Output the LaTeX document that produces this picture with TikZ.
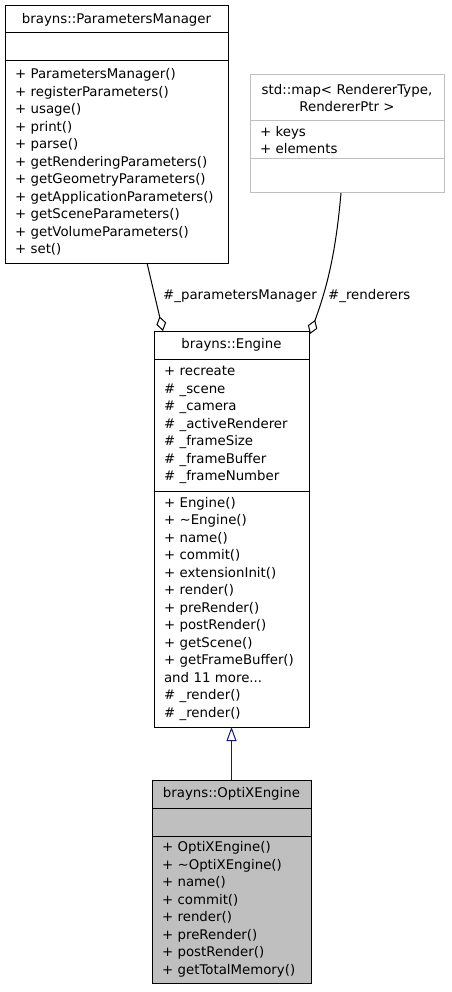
\documentclass[tikz,border=0pt]{standalone}
\usepackage{fontspec}
\setmainfont{DejaVu Sans}
\usetikzlibrary{positioning,arrows.meta}
\definecolor{grey75}{HTML}{BFBFBF}
\definecolor{edgeblue}{HTML}{191970}
\newcommand{\umlfont}{\fontsize{13.33}{17.5}\selectfont}

\begin{document}
\begin{tikzpicture}[x=1pt,y=-1pt, % one unit per pixel, y downwards
  compart/.style={draw, line width=1pt, fill=white, font=\umlfont, inner xsep=10pt, inner ysep=0pt, outer sep=0pt, align=left},
  clsname/.style={compart, align=center, anchor=north west},
  aggr/.style={line width=1pt, -{Diamond[open,length=15pt,width=10pt]}},
  inherit/.style={line width=1pt, edgeblue, -{Triangle[open,length=14pt,width=10pt]}},
  lbl/.style={font=\umlfont, inner sep=0pt, anchor=west}]
\fill[white] (0,0) rectangle (451,992);

% brayns::ParametersManager
\node[clsname, text width=203pt, minimum height=27pt] (pmTitle) at (5,6) {brayns::ParametersManager};
\node[compart, text width=203pt, minimum height=28pt, below=0pt of pmTitle] (pmAttr) {};
\node[compart, text width=203pt, minimum height=202pt, below=0pt of pmAttr] (pmMethods) {%
+ ParametersManager()\\
+ registerParameters()\\
+ usage()\\
+ print()\\
+ parse()\\
+ getRenderingParameters()\\
+ getGeometryParameters()\\
+ getApplicationParameters()\\
+ getSceneParameters()\\
+ getVolumeParameters()\\
+ set()};

% std::map
\node[clsname, draw=grey75, text width=174pt, minimum height=46pt] (mapTitle) at (250,75) {std::map< RendererType,\\RendererPtr >};
\node[compart, draw=grey75, text width=174pt, minimum height=38pt, below=0pt of mapTitle] (mapAttr) {%
+ keys\\
+ elements};
\node[compart, draw=grey75, text width=174pt, minimum height=34pt, below=0pt of mapAttr] (mapMethods) {};

% brayns::Engine
\node[clsname, text width=135pt, minimum height=28pt] (engTitle) at (154,331) {brayns::Engine};
\node[compart, text width=135pt, minimum height=132pt, below=0pt of engTitle] (engAttr) {%
+ recreate\\
\# \_scene\\
\# \_camera\\
\# \_activeRenderer\\
\# \_frameSize\\
\# \_frameBuffer\\
\# \_frameNumber};
\node[compart, text width=135pt, minimum height=236pt, below=0pt of engAttr] (engMethods) {%
+ Engine()\\
+ \textasciitilde{}Engine()\\
+ name()\\
+ commit()\\
+ extensionInit()\\
+ render()\\
+ preRender()\\
+ postRender()\\
+ getScene()\\
+ getFrameBuffer()\\
and 11 more...\\
\# \_render()\\
\# \_render()};

% brayns::OptiXEngine
\node[clsname, fill=grey75, text width=139pt, minimum height=28pt] (optTitle) at (152,780) {brayns::OptiXEngine};
\node[compart, fill=grey75, text width=139pt, minimum height=28pt, below=0pt of optTitle] (optAttr) {};
\node[compart, fill=grey75, text width=139pt, minimum height=147pt, below=0pt of optAttr] (optMethods) {%
+ OptiXEngine()\\
+ \textasciitilde{}OptiXEngine()\\
+ name()\\
+ commit()\\
+ render()\\
+ preRender()\\
+ postRender()\\
+ getTotalMemory()};

% relations
\draw[aggr] ([xshift=30.5pt]pmMethods.south) -- ([xshift=-68.5pt]engTitle.north);
\draw[aggr] ([xshift=-6pt]mapMethods.south) .. controls (336,250) and (328,285) .. ([shift={(1pt,-3pt)}]engTitle.north east);
\draw[inherit] (optTitle.north) -- (engMethods.south);

\node[lbl] (pmLabel) at (163,296) {\#\_parametersManager};
\node[lbl] (rendLabel) at (328,296) {\#\_renderers};
\end{tikzpicture}
\end{document}
